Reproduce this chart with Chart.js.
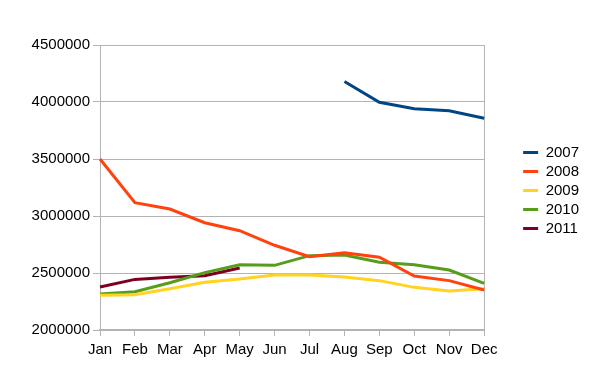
<!DOCTYPE html>
<html>
<head>
<meta charset="utf-8">
<script src="https://cdn.jsdelivr.net/npm/chart.js@4.4.0/dist/chart.umd.min.js"></script>
<style>
  html, body { margin: 0; padding: 0; background: #fff; }
  #wrap { width: 589px; height: 384px; }
</style>
</head>
<body>
<div id="wrap"><canvas id="chart" width="589" height="384"></canvas></div>
<script>
const months = ['Jan', 'Feb', 'Mar', 'Apr', 'May', 'Jun', 'Jul', 'Aug', 'Sep', 'Oct', 'Nov', 'Dec'];
const y2007 = [null, null, null, null, null, null, null, 4180000, 3997000, 3940000, 3924000, 3857000];
const y2008 = [3500000, 3117000, 3061000, 2941000, 2871000, 2743000, 2643000, 2678000, 2638000, 2474000, 2433000, 2351000];
const y2009 = [2304000, 2310000, 2362000, 2418000, 2447000, 2482000, 2482000, 2465000, 2433000, 2374000, 2342000, 2362000];
const y2010 = [2316000, 2336000, 2415000, 2503000, 2573000, 2567000, 2652000, 2658000, 2594000, 2573000, 2526000, 2409000];
const y2011 = [2377000, 2444000, 2462000, 2476000, 2544000, null, null, null, null, null, null, null];

const gray = '#b3b3b3';
const font = { family: '"Liberation Sans", Arial, sans-serif', size: 15 };

function series(label, data, color) {
    return {
        label: label,
        data: data,
        borderColor: color,
        backgroundColor: color,
        borderWidth: 3,
        pointRadius: 0,
        tension: 0,
        spanGaps: false
    };
}

const data = {
    labels: months,
    datasets: [
        series('2007', y2007, '#004586'),
        series('2008', y2008, '#ff420e'),
        series('2009', y2009, '#ffd320'),
        series('2010', y2010, '#579d1c'),
        series('2011', y2011, '#7e0021')
    ]
};

const config = {
    type: 'line',
    data: data,
    options: {
        responsive: false,
        animation: false,
        layout: { padding: { top: 45, left: 0, right: 0, bottom: 0 } },
        plugins: {
            legend: {
                position: 'right',
                align: 'start',
                title: { display: true, text: ' ', font: font, padding: { top: 78, bottom: 0 } },
                labels: {
                    usePointStyle: true,
                    pointStyle: 'line',
                    pointStyleWidth: 15,
                    boxHeight: 14,
                    padding: 4,
                    color: '#000',
                    font: font
                }
            },
            tooltip: { enabled: false }
        },
        scales: {
            x: {
                offset: false,
                grid: {
                    color: ctx => ctx.index === months.length - 1 ? gray : 'transparent',
                    tickColor: gray,
                    tickLength: 6
                },
                border: { color: gray, width: 2 },
                ticks: { color: '#000', font: font, padding: 5, maxRotation: 0, autoSkip: false },
                afterFit: scale => { scale.height = 54; }
            },
            y: {
                min: 2000000,
                max: 4500000,
                grid: { color: gray, tickColor: gray, tickLength: 7 },
                border: { color: gray, width: 1 },
                ticks: {
                    stepSize: 500000,
                    color: '#000',
                    font: font,
                    padding: 3,
                    callback: v => String(v)
                },
                afterFit: scale => { scale.width = 100; }
            },
            gap: {
                type: 'linear',
                position: 'right',
                display: true,
                grid: { display: false },
                border: { display: false },
                ticks: { display: false },
                afterFit: scale => { scale.width = 35; }
            }
        }
    }
};

new Chart(document.getElementById('chart'), config);
</script>
</body>
</html>
